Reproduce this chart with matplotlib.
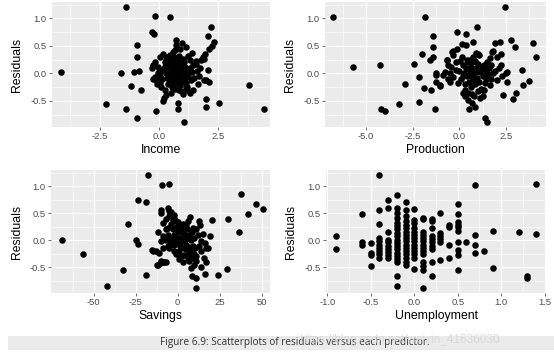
import matplotlib
matplotlib.use("Agg")
import matplotlib.pyplot as plt
from matplotlib.patches import Rectangle
import numpy as np

# ---- data (residuals vs each predictor) ----
income_x = [-4.13, -2.23, -1.59, -1.41, -1.41, -1.17, -1.06, -0.93, -0.93, -0.93, -0.82, -0.75,
            -0.28, -0.22, -0.15, -0.11, 0.45, 1.08, 0.80, 0.80, 2.0, 2.0, 2.54, 3.8, 4.44,
            2.21, 2.07, 2.35, 2.24, 2.1, 1.93, 1.9, 2.07, 2.0, 2.14, 1.41,
            0.73, 0.73, 0.99, 1.15, 0.59, 0.45, 0.17, 0.03, -0.18, -0.25, -0.04, 0.85, 1.01, 1.3,
            1.58, 1.79, 1.58, 0.24, 0.38, 0.59,
            -0.18, -0.11, 0.03, 0.1, 0.24, 0.31, 0.2, 0.17, 0.59, 0.87, 1.15, 1.3, 1.44, 1.89,
            0.1, 0.2, 0.3, 0.35, 0.4, 0.45, 0.5, 0.5, 0.55, 0.6, 0.6, 0.65, 0.65, 0.7, 0.7, 0.75,
            0.75, 0.8, 0.8, 0.85, 0.85, 0.9, 0.9, 0.95, 0.95, 1.0, 1.0, 1.05, 1.1, 1.1, 1.15, 1.2,
            1.25, 1.3, 1.35, 1.4, 1.5, 1.6, 1.7, 0.25, 0.15, 0.0, 0.05, 0.45, 0.55, 0.7, 0.85,
            1.05, 1.2, 0.4, 0.3, 1.45, 0.62, 0.78, 0.92, 1.02, 1.18, 0.5, 0.35, 0.68, 0.88, 1.25,
            1.65, 1.75, 1.85, -0.3, -0.1, -0.25, -0.05]
income_resid = [0.03, -0.55, 0.01, 1.21, -0.65, -0.23, 0.02, 0.52, 0.30, -0.82, 0.05, -0.30,
                0.76, 0.72, 1.04, -0.69, 1.02, -0.88, -0.53, -0.64, -0.47, -0.61, -0.53, -0.21, -0.64,
                0.85, 0.68, 0.58, 0.50, 0.44, 0.36, 0.27, 0.07, -0.12, -0.15, 0.38,
                0.61, 0.52, 0.56, 0.48, 0.39, 0.33, 0.36, 0.30, 0.21, 0.15, 0.12, 0.32, 0.27, 0.25,
                0.23, 0.24, 0.18, 0.21, 0.18, 0.24,
                -0.06, -0.12, -0.18, -0.24, -0.30, -0.39, -0.45, -0.50, -0.27, -0.30, -0.24, -0.36, -0.30, -0.12,
                0.05, 0.10, 0.0, -0.08, 0.12, -0.15, 0.05, -0.05, 0.15, -0.10, 0.0, 0.08, -0.20, 0.18, -0.04, 0.10,
                -0.12, 0.02, -0.18, 0.12, -0.07, 0.05, -0.22, -0.02, 0.15, 0.08, -0.13, 0.0, -0.08, 0.12, -0.17, 0.04,
                -0.05, 0.10, -0.12, 0.02, -0.08, 0.05, -0.05, 0.12, -0.10, 0.02, -0.05, 0.22, -0.25, -0.28, 0.22,
                0.20, -0.25, -0.20, 0.25, 0.15, 0.30, 0.28, -0.32, -0.38, -0.30, -0.35, 0.30, 0.42, 0.45, 0.32,
                -0.20, 0.10, 0.30, 0.10, -0.20, -0.10, 0.0]

production_x = [-6.75, -5.68, -4.28, -4.21, -3.98, -3.21, -2.94, -2.41, -2.14, -2.19, -2.01, -1.87,
                -1.84, -1.6, -1.53, -1.39, -1.39, -1.39, -1.25, -1.25, -1.3, -1.03, -0.68, -0.41,
                -0.32, -0.14, -0.14, 0.13, 0.36, 0.36, 0.93, 0.72, 0.9, 1.02, 2.45, 2.15, 1.91, 1.74,
                2.0, 2.77, 2.99, 3.93, 4.11, 3.34, 2.54, 2.57, 3.74, 3.4, 3.04, 2.86, 2.36, 0.81, 0.49,
                1.38, 1.47, 1.24,
                1.72, 2.22, -0.69, -0.6, -0.78, -0.87, -1.23, -1.05, -0.43, -0.16, -0.34, -0.51, 0.2,
                0.29, 0.47, 0.65, 1.27, 1.63, 1.99, 2.52, 2.25, 1.81, 1.04, -0.34,
                0.0, 0.1, 0.2, 0.25, 0.3, 0.35, 0.4, 0.45, 0.5, 0.55, 0.6, 0.6, 0.65, 0.7, 0.75, 0.8,
                0.85, 0.9, 0.95, 1.0, 1.05, 1.1, 1.15, 1.2, 1.25, 1.3, 1.35, 1.4, 1.45, 1.5, 1.55, 1.6,
                1.7, 1.8, 1.9, 0.3, 0.45, 0.55, 0.75, 0.85, 1.0, 0.15, -0.05, 0.2, 0.65, 0.8, 1.1, 0.95,
                0.7, 0.4, 1.3, -0.2, 0.05, 2.1, 2.3, 1.65, -0.5, -0.6]
production_resid = [1.03, 0.12, 0.16, -0.65, -0.68, -0.55, -0.19, 0.17, -0.07, -0.52, 0.36, -0.27,
                    1.02, 0.25, -0.30, 0.29, 0.68, 0.48, -0.03, -0.15, -0.65, -0.23, 0.24, 0.39,
                    0.33, 0.75, 0.44, 0.53, 0.71, 0.52, 0.84, 0.58, 0.38, 0.35, 1.21, 0.58, 0.56, 0.39,
                    0.30, 0.61, 0.48, 0.56, 0.29, 0.07, 0.02, -0.15, -0.14, -0.22, -0.35, -0.47, -0.39, -0.61, -0.64,
                    -0.82, -0.88, -0.41,
                    0.15, 0.15, 0.24, 0.15, 0.03, -0.03, 0.0, -0.21, 0.12, 0.07, -0.06, -0.15, -0.36,
                    -0.42, -0.48, -0.53, -0.30, -0.21, -0.12, 0.0, 0.36, 0.41, 0.33, 0.41,
                    0.05, -0.10, 0.15, 0.0, -0.20, 0.10, -0.05, 0.20, -0.15, 0.05, -0.25, 0.12, -0.05, 0.20, -0.12, 0.0,
                    -0.20, 0.10, -0.08, 0.18, -0.15, 0.03, -0.28, 0.10, -0.05, 0.15, -0.18, 0.05, -0.10, 0.20, -0.02, 0.10,
                    -0.10, 0.0, 0.05, -0.30, -0.35, 0.25, 0.30, 0.22, -0.32, 0.30, -0.18, -0.05, -0.38, -0.42, -0.45, 0.05,
                    0.08, 0.25, -0.30, 0.20, 0.22, 0.10, -0.05, 0.28, 0.0, -0.10]

savings_x = [-69, -56.6, -42.4, -32.5, -29.6, -24.7, -23.7, -23.7, -18.7, -17.8, -18.7, -15.2,
             -12.8, -11.2, -12.4, -10.8, -11.8, -9.9, -9.9, -9.5, -5.3, -9.9, -8.9, -8.9, -6.9,
             -5.9, -4.9, -3.9, -2.0, 7.3, 7.9, 8.5, 11.2, 11.2, 12.8, 13.4, 15.8, 16.8, 16.4, 13.8,
             20.3, 19.3, 17.8, 24.3, 29.8, 29.2, 36.5, 37.5, 41.8, 46.4, 50.9,
             -3.0, -1.0, -8.9, -5.9, 2.0, 4.9, -8.9, -6.9, 13.8, 12.8, 16.8, -14.8, -4.9, -2.0, 2.0,
             5.9, 8.9, 10.8, -9.9, -7.9, -11.8, 4.9, 1.0,
             -4, -3, -2, -1, 0, 0, 1, 1.5, 2, 2.5, 3, 3.5, 4, 4.5, 5, 5.5, 6, 6.5, 7, 7.5, 8, 8.5,
             9, 9.5, 10, 10.5, 11, 12, -6, -5, -4, -3, -2, -1, -7, -6, 3, 5, -1, 1, 6, 8, 4, -5, -4,
             -7, -2, 0, 3, 6, 9, 14, 15, 16, 11, 7, 10]
savings_resid = [0.01, -0.25, -0.84, -0.55, 0.30, 0.01, -0.07, 0.74, 0.70, 1.20, -0.65, -0.18,
                 -0.20, -0.23, -0.46, -0.43, 0.16, 0.56, 0.50, 1.02, 1.04, -0.02, -0.14, -0.40, -0.40,
                 0.59, 0.55, 0.47, 0.41, 0.43, -0.51, -0.66, -0.69, -0.89, 0.36, 0.29, -0.32, -0.41, -0.62, -0.49,
                 0.38, 0.07, -0.14, -0.65, 0.40, -0.54, 0.15, 0.85, 0.48, 0.68, 0.58,
                 0.38, 0.35, 0.32, 0.23, 0.26, 0.23, 0.07, 0.01, -0.02, -0.11, -0.14, -0.20, -0.14, -0.20, -0.29,
                 -0.32, -0.32, -0.38, -0.38, -0.40, -0.45, -0.17, -0.35,
                 0.30, 0.20, 0.10, 0.25, 0.15, -0.05, 0.05, -0.10, 0.18, -0.02, 0.08, -0.15, 0.12, 0.0, -0.08, 0.20,
                 0.05, -0.12, 0.10, -0.20, 0.0, 0.15, -0.10, -0.25, 0.05, -0.15, -0.30, 0.10, 0.10, 0.0, -0.05, 0.05,
                 -0.08, 0.0, 0.20, -0.10, 0.30, 0.28, -0.25, -0.20, -0.25, -0.30, -0.28, 0.45, 0.52, 0.40, 0.47,
                 0.33, -0.40, 0.35, 0.22, -0.20, 0.12, -0.05, 0.20, -0.38, -0.45]

unemp_x = ([-0.9] * 2 + [-0.6] * 3 + [-0.5] * 4 + [-0.4] * 10 + [-0.3] * 10 + [-0.2] * 19
           + [-0.1] * 17 + [0.0] * 14 + [0.1] * 14 + [0.2] * 10 + [0.3] * 6 + [0.4] * 4
           + [0.5] * 10 + [0.6] + [0.7] * 4 + [0.8] + [0.9] * 2 + [1.2] + [1.3] * 2 + [1.4] * 2)
unemp_resid = [0.07, -0.16,
               0.48, -0.04, -0.08,
               -0.05, -0.23, -0.28, -0.48,
               1.20, 0.56, 0.30, 0.04, -0.02, -0.08, -0.14, -0.20, -0.26, -0.32,
               0.74, 0.60, 0.16, 0.01, -0.04, -0.10, -0.16, -0.22, -0.28, -0.32,
               0.84, 0.59, 0.51, 0.41, 0.32, 0.26, 0.20, 0.13, 0.07, 0.01, -0.05, -0.11, -0.17, -0.23,
               -0.29, -0.35, -0.41, -0.66, -0.84,
               0.70, 0.56, 0.45, 0.35, 0.29, 0.23, 0.16, 0.10, 0.04, -0.02, -0.08, -0.14, -0.20, -0.26,
               -0.32, -0.41, -0.45,
               0.58, 0.38, 0.32, 0.23, 0.16, 0.10, 0.04, -0.02, -0.08, -0.14, -0.20, -0.26, -0.32, -0.53,
               0.42, 0.39, 0.16, 0.10, 0.04, -0.02, -0.08, -0.14, -0.20, -0.26, -0.41, -0.48, -0.55, -0.88,
               0.40, 0.35, 0.22, 0.08, 0.02, -0.04, -0.10, -0.16, -0.41, -0.66,
               0.51, 0.13, 0.08, 0.02, -0.03, -0.36,
               0.29, 0.25, -0.08, -0.32,
               0.68, 0.48, 0.33, 0.29, 0.24, 0.17, -0.04, -0.18, -0.28, -0.55,
               -0.03,
               1.02, 0.09, -0.08, -0.24,
               -0.20,
               0.17, -0.52,
               0.15,
               -0.66, -0.69,
               1.04, 0.11]

caption = "Figure 6.9: Scatterplots of residuals versus each predictor."
watermark = "https://blog.csdn.net/weixin_41636030"

W, H = 554, 361
BG = "#EBEBEB"


def px_axes(fig, left, top, right, bottom):
    return fig.add_axes([left / W, 1 - bottom / H, (right - left) / W, (bottom - top) / H])


def ggplot_panel(ax, x, y, xlabel, xlim, major, ylabel_x):
    ax.set_facecolor(BG)
    for s in ax.spines.values():
        s.set_visible(False)
    ax.scatter(x, y, s=22, color="black", linewidths=0, zorder=3)
    ax.set_xlim(*xlim)
    ax.set_ylim(-0.976, 1.30)
    ax.set_xticks(major)
    ax.set_xticklabels([f"{v:g}" if isinstance(v, int) else f"{v:.1f}" for v in major])
    step = major[1] - major[0]
    minor_x = [v + step / 2 for v in [major[0] - step] + list(major)]
    ax.set_xticks([m for m in minor_x if xlim[0] < m < xlim[1]], minor=True)
    ax.set_yticks([-0.5, 0.0, 0.5, 1.0])
    ax.set_yticklabels(["-0.5", "0.0", "0.5", "1.0"])
    ax.set_yticks([-0.75, -0.25, 0.25, 0.75, 1.25], minor=True)
    ax.grid(which="major", color="white", linewidth=0.8)
    ax.grid(which="minor", color="white", linewidth=0.4)
    ax.set_axisbelow(True)
    ax.tick_params(which="major", length=2.2, width=0.5, color="#333333",
                   labelcolor="#4D4D4D", labelsize=6.8, pad=1.5)
    ax.tick_params(which="minor", length=0)
    ax.set_xlabel(xlabel, fontsize=8.8, color="black", labelpad=2)
    ax.set_ylabel("Residuals", fontsize=8.8, color="black")
    ax.yaxis.set_label_coords(ylabel_x, 0.5)


plt.rcParams["font.family"] = ["Liberation Sans", "DejaVu Sans"]
fig = plt.figure(figsize=(W / 100, H / 100), dpi=100)

ax1 = px_axes(fig, 52, 2, 270, 127)
ggplot_panel(ax1, income_x, income_resid, "Income", (-4.52, 4.7), [-2.5, 0.0, 2.5],
             (23 - 52) / 218)
ax2 = px_axes(fig, 325, 2, 546, 127)
ggplot_panel(ax2, production_x, production_resid, "Production", (-7.2, 4.64),
             [-5.0, -2.5, 0.0, 2.5], (296 - 325) / 221)
ax3 = px_axes(fig, 51, 170, 270, 293)
ggplot_panel(ax3, savings_x, savings_resid, "Savings", (-75.5, 55), [-50, -25, 0, 25, 50],
             (23 - 51) / 219)
ax4 = px_axes(fig, 326, 170, 546, 293)
ggplot_panel(ax4, unemp_x, unemp_resid, "Unemployment", (-1.015, 1.515),
             [-1.0, -0.5, 0.0, 0.5, 1.0, 1.5], (297 - 326) / 220)

# caption band
fig.patches.append(Rectangle((8 / W, 1 - 350 / H), 1 - 8 / W, 14 / H,
                             transform=fig.transFigure, facecolor="#EBEBEB",
                             edgecolor="none", zorder=0))
fig.text(295 / W, 1 - 342.5 / H, caption, ha="center", va="center", fontsize=7.2,
         color="#333333", family=["Open Sans", "DejaVu Sans"])
fig.text(399 / W, 1 - 340 / H, watermark, ha="center", va="center", fontsize=8.5,
         color="#D4D4D4", alpha=0.8)

fig.savefig("out.png", dpi=100)
